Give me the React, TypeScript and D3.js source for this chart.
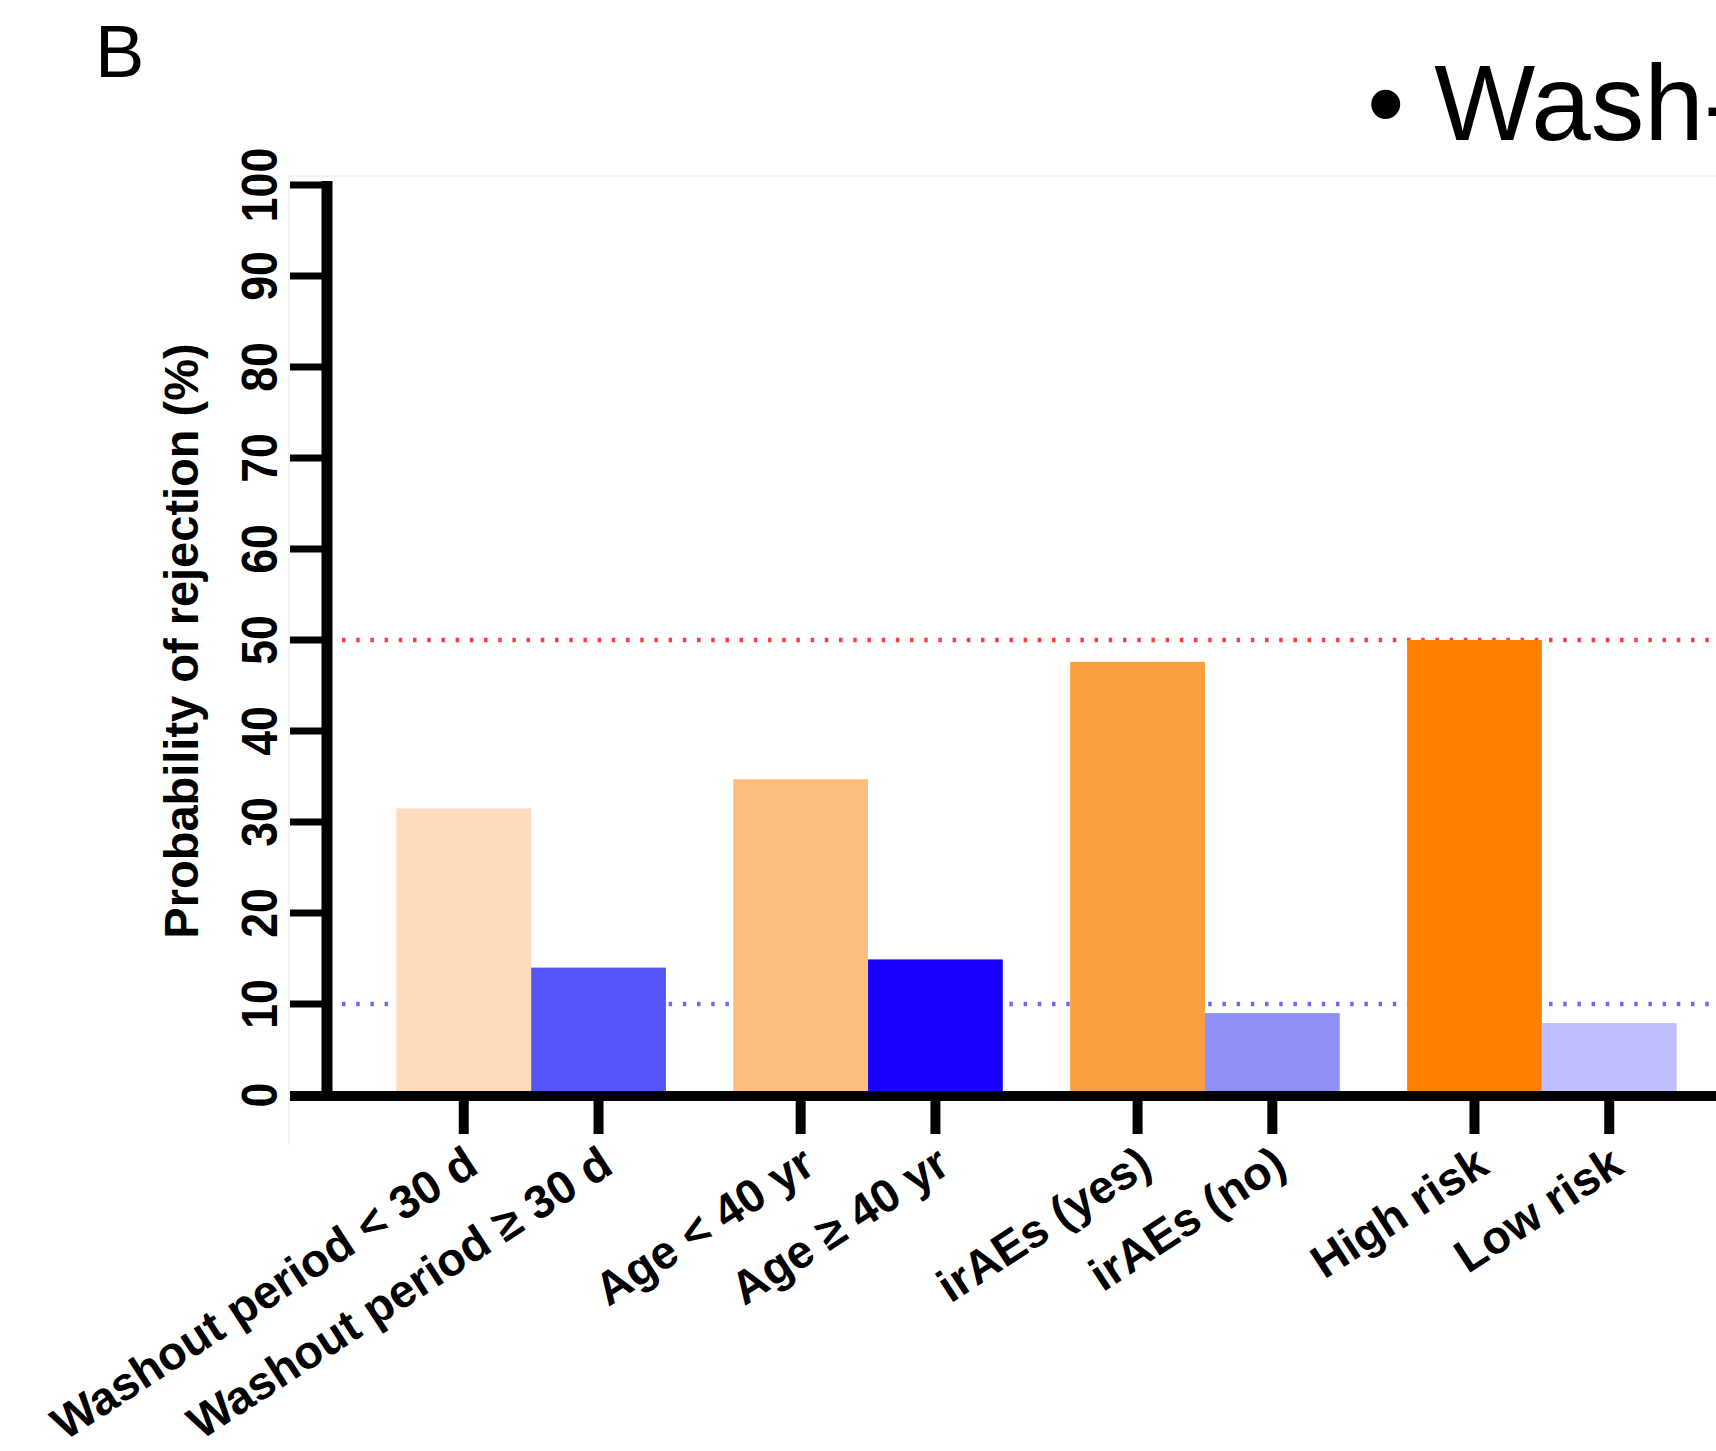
import React from "react";
import * as d3 from "d3";

const groups = ["Washout", "Age", "irAEs", "Risk"];
const categories = [
  "Washout period < 30 d",
  "Washout period ≥ 30 d",
  "Age < 40 yr",
  "Age ≥ 40 yr",
  "irAEs (yes)",
  "irAEs (no)",
  "High risk",
  "Low risk",
];
const values = [31.5, 14.0, 34.7, 14.9, 47.6, 9.0, 50.0, 7.9];
const barColors = [
  "#FDDBBD",
  "#5555F9",
  "#FDBD7D",
  "#1A00FF",
  "#FB9E3E",
  "#8F8FF8",
  "#FF7F00",
  "#BFBFFD",
];
const yTicks = [0, 10, 20, 30, 40, 50, 60, 70, 80, 90, 100];
const refLines = [
  { value: 50, color: "#FF3C3C" },
  { value: 10, color: "#6B6BFF" },
];

const W = 1716;
const H = 1451;
const FONT = "'Liberation Sans', Arial, Helvetica, sans-serif";

export default function App() {
  const y = d3.scaleLinear().domain([0, 100]).range([1095, 185]);
  const xGroup = d3
    .scaleBand<string>()
    .domain(groups)
    .range([329, 1744])
    .paddingInner(0.2)
    .paddingOuter(0.2);
  const xInner = d3
    .scaleBand<number>()
    .domain([0, 1])
    .range([0, xGroup.bandwidth()]);

  const bars = values.map((v, i) => {
    const g = groups[Math.floor(i / 2)];
    const x0 = (xGroup(g) as number) + (xInner(i % 2) as number);
    return {
      x: x0,
      w: xInner.bandwidth(),
      cx: x0 + xInner.bandwidth() / 2,
      top: y(v),
      v,
      color: barColors[i],
      label: categories[i],
    };
  });

  const axisX = 327;
  const axisY = y(0) + 1;

  return (
    <svg
      width={W}
      height={H}
      viewBox={`0 0 ${W} ${H}`}
      style={{ position: "absolute", left: 0, top: 0, background: "#fff" }}
      fontFamily={FONT}
    >
      <rect x={0} y={0} width={W} height={H} fill="#fff" />
      {/* faint frame */}
      <line x1={289} x2={W} y1={176} y2={176} stroke="#f3f3f3" strokeWidth={2} />
      <line x1={289} x2={289} y1={176} y2={1145} stroke="#f3f3f3" strokeWidth={2} />

      {/* Panel letter */}
      <text x={95} y={77} fontSize={74} fill="#000">
        B
      </text>
      <text x={1367} y={140} fontSize={107} fill="#000">
        • Wash-
      </text>

      {/* reference dotted lines */}
      {refLines.map((r) => (
        <line
          key={r.value}
          x1={342}
          x2={W}
          y1={y(r.value)}
          y2={y(r.value)}
          stroke={r.color}
          strokeWidth={4.5}
          strokeDasharray="3.5 10.7"
        />
      ))}

      {/* bars */}
      {bars.map((b, i) => (
        <rect
          key={i}
          x={b.x}
          y={b.top}
          width={b.w}
          height={y(0) - b.top}
          fill={b.color}
        />
      ))}

      {/* y axis */}
      <line x1={axisX} x2={axisX} y1={y(100) - 4} y2={axisY + 4} stroke="#000" strokeWidth={11} />
      {yTicks.map((t) => (
        <g key={t}>
          <line x1={290} x2={axisX} y1={y(t)} y2={y(t)} stroke="#000" strokeWidth={7} />
          <text
            transform={`translate(277, ${y(t)}) rotate(-90) scale(0.97, 1.1)`}
            textAnchor="middle"
            fontSize={46}
            fontWeight="bold"
            fill="#000"
          >
            {t}
          </text>
        </g>
      ))}
      <text
        transform={`translate(198, 641) rotate(-90) scale(1, 1.04)`}
        textAnchor="middle"
        fontSize={47}
        fontWeight="bold"
        fill="#000"
      >
        Probability of rejection (%)
      </text>

      {/* x axis */}
      <line x1={290} x2={W} y1={axisY} y2={axisY} stroke="#000" strokeWidth={10} />
      {bars.map((b, i) => (
        <g key={i}>
          <line x1={b.cx} x2={b.cx} y1={axisY} y2={1134} stroke="#000" strokeWidth={10} />
          <text
            transform={`translate(${b.cx + 8}, 1158) rotate(-33)`}
            textAnchor="end"
            dominantBaseline="central"
            fontSize={46.5}
            fontWeight="bold"
            fill="#000"
          >
            {b.label}
          </text>
        </g>
      ))}
    </svg>
  );
}
